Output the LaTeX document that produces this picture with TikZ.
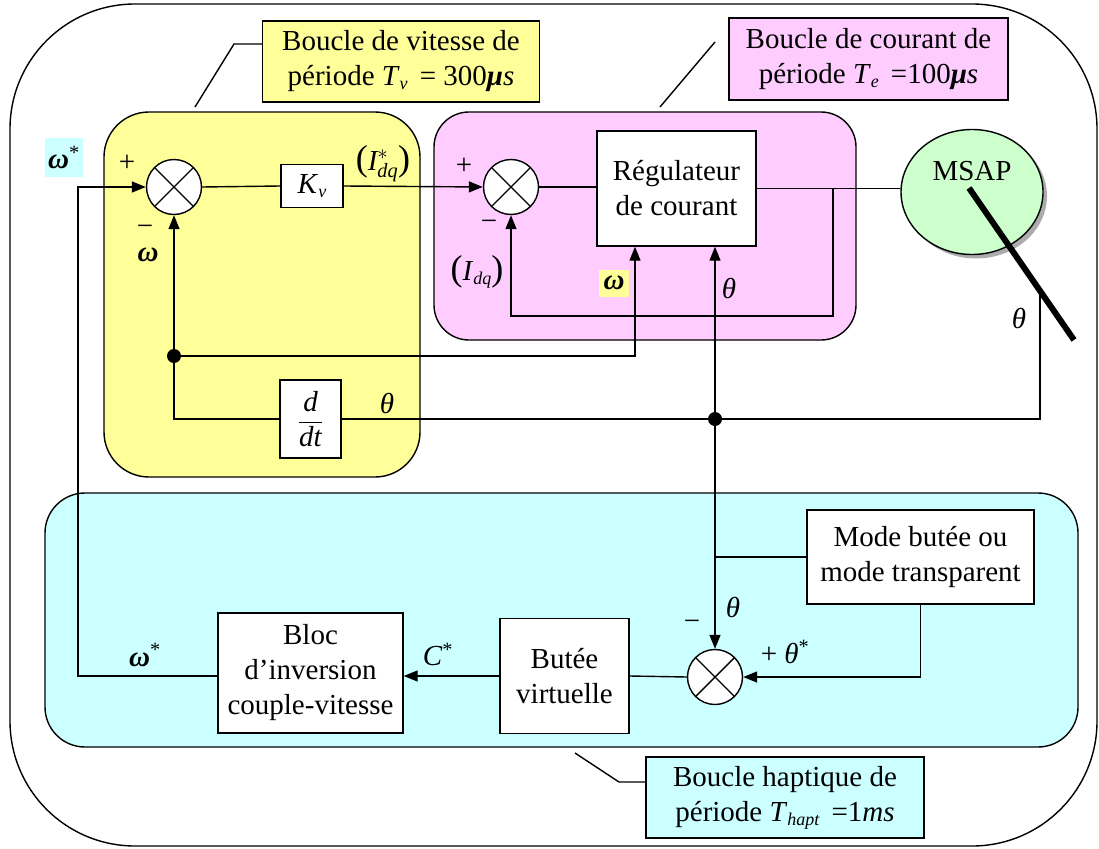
\documentclass[tikz,border=0pt]{standalone}
\usepackage{fontspec}
\setmainfont{Liberation Serif}
\usepackage{amsmath}
\usetikzlibrary{arrows.meta,shapes.geometric}

\definecolor{vyellow}{HTML}{FFFF99}
\definecolor{cpink}{HTML}{FFCCFF}
\definecolor{hcyan}{HTML}{CCFFFF}
\definecolor{mgreen}{HTML}{CCFFCC}

\newcommand{\iv}[1]{\textit{#1}}
\newcommand{\om}{\textbf{\textit{ω}}}
\newcommand{\thet}{\textit{θ}}
\newcommand{\mus}{\textbf{\textit{μ}}\textit{s}}
\newcommand{\sbs}[1]{\raisebox{-0.3ex}{\fontsize{18}{18}\selectfont\itshape #1}}
\newcommand{\sps}[1]{\textsuperscript{#1}}
\newcommand{\bigpar}[1]{{\fontsize{36}{36}\selectfont(}#1{\fontsize{36}{36}\selectfont)}}

\begin{document}
\begin{tikzpicture}[x=1pt,y=-1pt,
  every node/.style={font=\fontsize{29}{35}\selectfont},
  tag/.style={inner sep=0pt},
  wire/.style={line width=1.4pt},
  sig/.style={wire,-{Triangle[length=14pt,width=11pt]}},
  blockbox/.style={draw,fill=white,line width=1.4pt,align=center,inner sep=2pt},
  labelbox/.style={draw,line width=1.4pt,align=center,inner sep=2pt},
  zone/.style={draw,line width=1.4pt},
  summer/.style={circle,draw,fill=white,line width=1.4pt,minimum size=55pt,inner sep=0pt,
    path picture={\draw[line width=1.4pt] (path picture bounding box.center) +(45:30) -- +(225:30)
      (path picture bounding box.center) +(135:30) -- +(-45:30);}},
  dot/.style={circle,fill=black,inner sep=0pt,minimum size=14pt}
]
\useasboundingbox (0,0) rectangle (1099,848);

% outer frame
\draw[line width=1.4pt,rounded corners=125] (10,4) rectangle (1097,846);

% loop zones
\draw[zone,fill=vyellow,rounded corners=45] (104,112) rectangle (420,477);
\draw[zone,fill=cpink,rounded corners=35] (434,112) rectangle (856,340);
\draw[zone,fill=hcyan,rounded corners=40] (45,493) rectangle (1078,747);

% zone captions and their leaders
\node[labelbox,fill=vyellow,minimum width=277,minimum height=81] (capV) at (401,61.5)
  {Boucle de vitesse de\\période \iv{T}\sbs{v}\, = 300\mus};
\node[labelbox,fill=cpink,minimum width=279,minimum height=82] (capC) at (868.5,59)
  {Boucle de courant de\\période \iv{T}\sbs{e}\, =100\mus};
\node[labelbox,fill=hcyan,minimum width=278,minimum height=81] (capH) at (785,797.5)
  {Boucle haptique de\\période \iv{T}\sbs{hapt}\, =1\iv{ms}};
\coordinate (lvA) at (195,107); \coordinate (lvB) at (234,44);
\draw[wire] (lvA) -- (lvB) -- (lvB -| capV.west);
\coordinate (lcA) at (660,107); \coordinate (lcB) at (715,42);
\draw[wire] (lcA) -- (lcB);
\coordinate (lhA) at (575,753); \coordinate (lhB) at (619,782);
\draw[wire] (lhA) -- (lhB) -- (lhB -| capH.west);

% motor
\fill[gray!65] (976,196) ellipse [x radius=71, y radius=62.5];
\node[ellipse,draw,fill=mgreen,line width=1.4pt,minimum width=142,minimum height=125,inner sep=0pt] (msap) at (972,192) {};
\node (msapt) at (972,171) {MSAP};

% blocks
\node[summer] (s1) at (174,187) {};
\node[blockbox,minimum width=62,minimum height=43] (kv) at (312,186) {\iv{K}\sbs{v}};
\node[summer] (s2) at (511,187) {};
\node[blockbox,minimum width=159,minimum height=115] (reg) at (676.5,188.5) {Régulateur\\de courant};
\node[blockbox,minimum width=61,minimum height=78] (dd) at (310.5,419)
  {$\dfrac{\text{\itshape d}}{\text{\itshape dt}}$};
\node[blockbox,minimum width=185,minimum height=120] (bloc) at (310.5,673)
  {Bloc\\d’inversion\\couple-vitesse};
\node[blockbox,minimum width=129,minimum height=115] (butee) at (564.5,676) {Butée\\virtuelle};
\node[blockbox,minimum width=227,minimum height=94] (mode) at (920.5,557) {Mode butée ou\\mode transparent};
\node[summer] (s3) at (715,677) {};

% shaft
\coordinate (shA) at (969,188); \coordinate (shB) at (1074,340);
\draw[line width=6pt] (shA) -- (shB);

% speed loop
\draw[wire] (s1.east) -- (kv.west);
\draw[sig] (kv.east) -- (s2.west);
\coordinate (wl) at (78,676);
\draw[sig] (bloc.west |- wl) -- (wl) |- (s1.west);
\draw[sig] (dd.west) -| (s1.south);
\node[dot] (jw) at (174,356) {};
\coordinate (jwR) at (635,356);
\draw[sig] (jw.center) -- (jwR) -- (jwR |- reg.south);

% current loop
\draw[wire] (s2.east) -- (s2.east -| reg.west);
\draw[wire] (reg.east) -- (reg.east -| msap.west);
\coordinate (ctap) at (833,188.5);
\coordinate (cfb) at (833,316);
\draw[sig] (ctap) -- (cfb) -| (s2.south);

% position feedback
\coordinate (thS) at (1040,291);
\coordinate (thC) at (1040,419);
\draw[wire] (thS) -- (thC) -- (dd.east);
\node[dot] (jt) at (715,419) {};
\draw[sig] (jt.center) -- (jt.center |- reg.south);
\draw[sig] (jt.center) -- (s3.north);

% haptic loop
\draw[wire] (jt.center |- mode.west) -- (mode.west);
\draw[sig] (mode.south) |- (s3.east);
\draw[wire] (s3.west) -- (butee.east);
\draw[sig] (butee.west) -- (butee.west -| bloc.east);

% signal labels
\node[fill=hcyan,inner sep=1pt,minimum width=38,minimum height=39] (lw1) at (64,157.5) {\om\sps{*}};
\node[tag] (p1) at (127,163) {+};
\node[tag] (m1) at (145,230) {−};
\node[tag] (lw2) at (148,255) {\om};
\node[tag] (lis) at (383,164) {\bigpar{$\text{\itshape I}^{*}_{\text{\itshape dq}}$}};
\node[tag] (p2) at (464,166) {+};
\node[tag] (m2) at (489,225) {−};
\node[tag] (lid) at (477,272) {\bigpar{\iv{I}\sbs{dq}}};
\node[fill=vyellow,inner sep=1pt,minimum width=30,minimum height=27] (lw3) at (614,283) {\om};
\node[tag] (lt1) at (729,288) {\thet};
\node[tag] (lt2) at (1019,318) {\thet};
\node[tag] (lt3) at (387,403) {\thet};
\node[tag] (lt4) at (733,607) {\thet};
\node[tag] (m3) at (692,625) {−};
\node[tag] (lts) at (785,652) {+ \thet\sps{*}};
\node[tag] (lc) at (438,654) {\iv{C}\sps{*}};
\node[tag] (lw4) at (145,655) {\om\sps{*}};
\end{tikzpicture}
\end{document}
